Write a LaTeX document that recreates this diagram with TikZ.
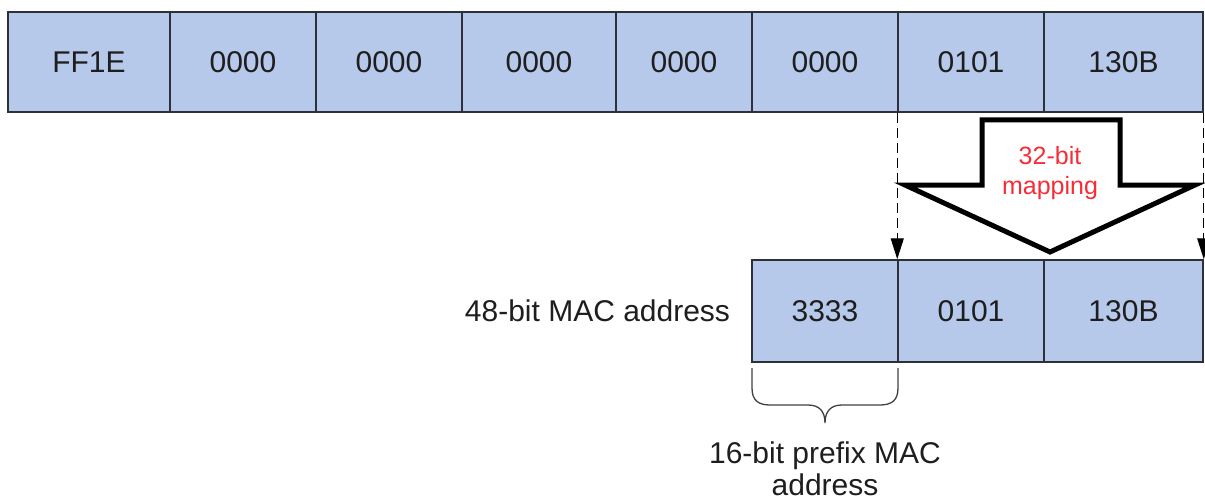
\documentclass[tikz,border=0pt]{standalone}
\usepackage{fontspec}
\setmainfont{Liberation Sans}
\usetikzlibrary{arrows.meta}
\definecolor{cellfill}{RGB}{183,201,235}
\definecolor{cellline}{RGB}{45,48,55}
\definecolor{textgray}{RGB}{30,30,30}
\definecolor{maptext}{RGB}{245,45,55}
\begin{document}
\begin{tikzpicture}[x=1pt,y=-1pt,
  cell/.style={draw=cellline, fill=cellfill, line width=1.5pt, minimum height=100pt,
    inner sep=0pt, font=\fontsize{30}{34}\selectfont, text=textgray},
  dasharrow/.style={draw=black, line width=1.4pt, dash pattern=on 10pt off 5pt,
    -{Triangle[length=21pt,width=13pt]}},
  bigarrow/.style={draw=black, fill=white, line width=5pt, line join=miter},
  lbl/.style={inner sep=0pt, font=\fontsize{30}{32}\selectfont, text=textgray, align=center},
  bracestyle/.style={draw=black!75, line width=1.3pt}
  ]
\useasboundingbox (0,0) rectangle (1205,500);
% top row
\node[cell, minimum width=162pt] (c1) at (89,62) {FF1E};
\node[cell, minimum width=146pt] (c2) at (243,62) {0000};
\node[cell, minimum width=146pt] (c3) at (389,62) {0000};
\node[cell, minimum width=154pt] (c4) at (539,62) {0000};
\node[cell, minimum width=136pt] (c5) at (684,62) {0000};
\node[cell, minimum width=146pt] (c6) at (825,62) {0000};
\node[cell, minimum width=146pt] (c7) at (971,62) {0101};
\node[cell, minimum width=159pt] (c8) at (1123.5,62) {130B};
% bottom row
\node[cell, minimum width=146pt, minimum height=102pt] (b1) at (825,311) {3333};
\node[cell, minimum width=146pt, minimum height=102pt] (b2) at (971,311) {0101};
\node[cell, minimum width=159pt, minimum height=102pt] (b3) at (1123.5,311) {130B};
% labels
\node[lbl, anchor=east] (maclbl) at ([xshift=-21pt]b1.west) {48-bit MAC address};
\node[lbl] (prefixlbl) at (825,469) {16-bit prefix MAC\\address};
% big mapping arrow
\draw[bigarrow] (982,120) -- (1120,120) -- (1120,185) -- (1195,185) -- (1050,252)
  -- (905,185) -- (982,185) -- cycle;
\node[inner sep=0pt, font=\fontsize{25}{30}\selectfont, text=maptext, align=center]
  (maplbl) at (1050,173) {32-bit\\mapping};
% dashed arrows
\draw[dasharrow] (c7.south west) -- (b2.north west);
\draw[dasharrow] (c8.south east) -- (b3.north east);
% brace
\draw[bracestyle] (752,368) -- (752,388) .. controls (752,400) and (758,405) .. (770,405)
  -- (808,405) .. controls (819,405) and (825,411) .. (825,423)
  .. controls (825,411) and (831,405) .. (842,405)
  -- (880,405) .. controls (892,405) and (898,400) .. (898,388) -- (898,368);
\end{tikzpicture}
\end{document}
